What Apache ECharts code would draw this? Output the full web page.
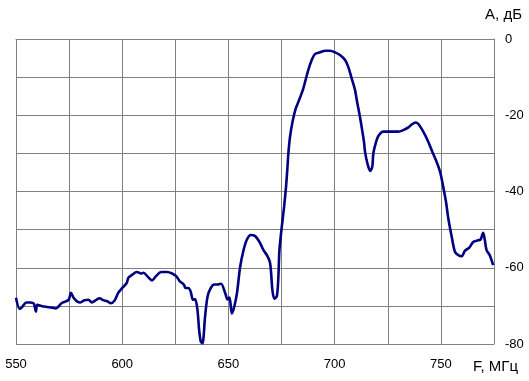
<!DOCTYPE html>
<html>
<head>
<meta charset="utf-8">
<script src="https://cdn.jsdelivr.net/npm/echarts@6/dist/echarts.min.js"></script>
<style>html,body{margin:0;padding:0;background:#fff;}#c{width:529px;height:381px;}</style>
</head>
<body>
<div id="c"></div>
<script>
// Frequency, MHz
var freq = [550,551.7,552.9,554.9,556.8,558.4,559.4,560,562.4,564.8,567.1,568.7,569.8,571.4,573.5,574.8,575.9,577.1,578.7,580.3,582.2,584.1,585.7,587.8,589.4,591,593,594.6,596.5,598.1,600,602.1,602.9,604.8,606.8,608.9,610,612.1,614,615.9,618.4,621.1,623.5,625.4,627,629,629.8,631.1,632.2,633.3,634.3,635.4,636.2,637,637.8,638.3,639,640.2,641.7,643.3,644.9,646.5,648.5,649.6,650.5,651.6,652.7,654,655.5,657.1,658.7,660.5,662.6,664.6,666.5,668.1,669.5,670.1,670.7,671.6,672.8,673.5,674,675.1,676.2,677.1,677.8,678.2,679,680.3,681.7,682.9,685,686.1,687.6,689.2,690.8,693.1,695.5,697.8,700.2,702.5,704.9,706.4,708,709.6,710.4,711.9,713.2,713.8,714.3,715.4,716.7,717.7,718.2,719.3,720.5,722.9,726.1,730,732.3,734.7,736.3,738.1,739.4,741.7,744.1,746.1,747.7,749.6,750.8,752.4,753.5,755.1,756.6,758.2,759.8,761.3,763.4,765.3,767.5,768.7,769.9,770.7,771.5,773,774.6];
// Amplitude, dB
var amp = [-67.9,-70.8,-70.3,-69.1,-69.1,-69.4,-71.5,-69.7,-70.1,-70.3,-70.5,-70.7,-70.3,-69.3,-68.8,-68.4,-66.6,-67.9,-68.8,-69.1,-68.5,-68.4,-69.1,-68.4,-68.0,-68.5,-68.8,-69.3,-68.5,-66.6,-65.3,-64.0,-62.6,-61.8,-61.1,-61.5,-61.3,-62.4,-63.3,-62.2,-61.1,-61.1,-61.5,-62.2,-63.5,-64.4,-65.3,-65.3,-66.2,-68.4,-68.2,-71.0,-76.3,-79.4,-79.8,-78.1,-72.8,-67.5,-65.3,-64.4,-64.4,-64.2,-66.7,-68.3,-67.8,-72.0,-70.3,-66.7,-59.8,-55.4,-52.6,-51.4,-51.7,-53.2,-55.4,-56.7,-58.5,-61.5,-65.9,-68.1,-67.4,-62.4,-55.4,-49.3,-44.0,-38.8,-33.5,-30.0,-25.6,-21.3,-18.2,-16.5,-13.4,-11.2,-8.1,-5.5,-3.9,-3.5,-3.1,-3.1,-3.5,-4.2,-5.5,-7.3,-10.3,-13.4,-16.0,-20.4,-24.8,-27.0,-29.6,-32.6,-34.6,-33.5,-30.0,-27.4,-25.5,-24.3,-24.3,-24.3,-23.9,-23.2,-22.4,-21.9,-22.3,-24.3,-27.0,-29.8,-31.8,-34.8,-37.9,-42.7,-47.1,-51.9,-55.8,-56.7,-57.0,-55.6,-54.7,-53.2,-52.8,-52.6,-50.8,-52.8,-55.4,-56.7,-59.3];
var xTicks = [550,600,650,700,750];
var yTicks = [0,-20,-40,-60,-80];
var xName = 'F, МГц';
var yName = 'A, дБ';

var data = freq.map(function(f,i){return [f, amp[i]];});
var chart = echarts.init(document.getElementById('c'));
var font = 'Liberation Sans, Arial, sans-serif';
chart.setOption({
  animation: false,
  backgroundColor: '#fff',
  grid: {left: 16, right: 35, top: 39, bottom: 37},
  xAxis: {
    type: 'value', min: 550, max: 775, interval: 25,
    axisLine: {show: true, lineStyle: {color: '#808080', width: 1}},
    axisTick: {show: false},
    splitLine: {show: true, lineStyle: {color: '#808080', width: 1}},
    axisLabel: {
      margin: 14, color: '#000', fontSize: 13, fontFamily: font,
      formatter: function(v){ return xTicks.indexOf(v) >= 0 ? String(v) : ''; }
    }
  },
  yAxis: {
    type: 'value', position: 'right', min: -80, max: 0, interval: 10,
    axisLine: {show: true, lineStyle: {color: '#808080', width: 1}},
    axisTick: {show: false},
    splitLine: {show: true, lineStyle: {color: '#808080', width: 1}},
    axisLabel: {
      margin: 11, color: '#000', fontSize: 13, fontFamily: font,
      formatter: function(v){ return yTicks.indexOf(v) >= 0 ? String(v) : ''; }
    }
  },
  graphic: [
    {type: 'text', right: 7, top: 7, style: {text: yName, fill: '#000', font: '15px ' + font}},
    {type: 'text', right: 11, top: 359, style: {text: xName, fill: '#000', font: '15px ' + font}}
  ],
  series: [{
    type: 'line', data: data, symbol: 'none', smooth: 0.3,
    lineStyle: {color: '#000080', width: 2.6},
    clip: false
  }]
});
</script>
</body>
</html>
